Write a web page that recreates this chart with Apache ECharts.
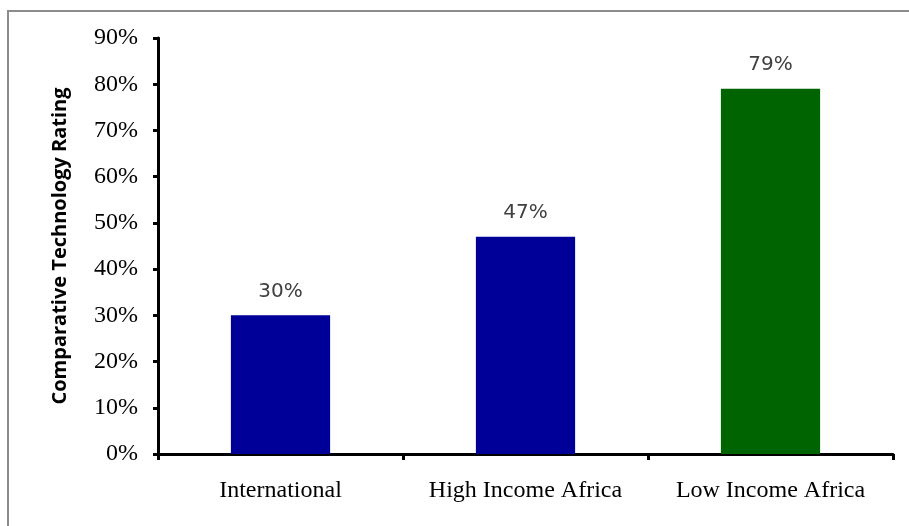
<!DOCTYPE html>
<html>
<head>
<meta charset="utf-8">
<script src="https://cdn.jsdelivr.net/npm/echarts@6/dist/echarts.min.js"></script>
<style>
  html, body { margin: 0; padding: 0; background: #fff; }
  #chart { width: 909px; height: 526px; }
</style>
</head>
<body>
<div id="chart"></div>
<script>
// Comparative technology rating by region
const categories = ['International', 'High Income Africa', 'Low Income Africa'];
const ratings = [30, 47, 79];
const barColors = ['#000099', '#000099', '#006400'];
const yMax = 90;
const yStep = 10;

const chart = echarts.init(document.getElementById('chart'));

chart.setOption({
  backgroundColor: '#ffffff',
  animation: false,
  graphic: [{
    type: 'rect',
    shape: { x: 8, y: 11, width: 960, height: 600 },
    style: { fill: 'none', stroke: '#8c8c8c', lineWidth: 2 },
    silent: true
  }],
  grid: { left: 158, right: 16, top: 38, bottom: 72 },
  xAxis: {
    type: 'category',
    data: categories,
    axisLine: { lineStyle: { color: '#000', width: 3 } },
    axisTick: { show: true, interval: 0, length: 6, lineStyle: { color: '#000', width: 3 } },
    axisLabel: {
      interval: 0,
      hideOverlap: false,
      color: '#000',
      fontFamily: 'Liberation Serif',
      fontSize: 24,
      margin: 25
    },
    splitLine: { show: false }
  },
  yAxis: {
    type: 'value',
    min: 0,
    max: yMax,
    interval: yStep,
    name: 'Comparative Technology Rating',
    nameLocation: 'middle',
    nameRotate: 90,
    nameGap: 88,
    nameTextStyle: {
      color: '#000',
      fontFamily: 'Open Sans',
      fontWeight: 'bold',
      fontSize: 20
    },
    axisLine: { show: true, lineStyle: { color: '#000', width: 3 } },
    axisTick: { show: true, length: 5, lineStyle: { color: '#000', width: 3 } },
    axisLabel: {
      color: '#000',
      fontFamily: 'Liberation Serif',
      fontSize: 24,
      margin: 20,
      formatter: '{value}%'
    },
    splitLine: { show: false }
  },
  series: [{
    type: 'bar',
    data: ratings.map((v, i) => ({ value: v, itemStyle: { color: barColors[i] } })),
    barWidth: '40.5%',
    label: {
      show: true,
      position: 'top',
      distance: 14,
      color: '#404040',
      fontFamily: 'DejaVu Sans',
      fontSize: 20,
      formatter: '{c}%'
    }
  }]
});
</script>
</body>
</html>
